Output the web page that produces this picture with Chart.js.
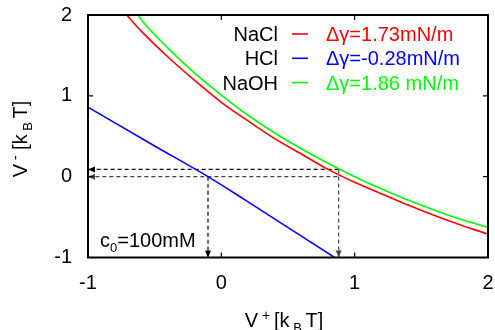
<!DOCTYPE html>
<html>
<head>
<meta charset="utf-8">
<script src="https://cdn.jsdelivr.net/npm/chart.js@4/dist/chart.umd.min.js"></script>
<style>
  html, body { margin:0; padding:0; background:#fff; }
  #wrap { width:495px; height:330px; position:relative; }
</style>
</head>
<body>
<div id="wrap"><canvas id="ch"></canvas></div>
<script>
/* ===== data ===== */
const FONT = '"Liberation Sans", Arial, Helvetica, sans-serif';

// NaCl (red)
const naclX = [-0.71, -0.6, -0.4, -0.2, 0, 0.2, 0.4, 0.6, 0.8, 1.0, 1.2, 1.4, 1.6, 1.8, 2.0];
const naclY = [2.00, 1.80, 1.48, 1.19, 0.92, 0.69, 0.47, 0.28, 0.09, -0.07, -0.21, -0.35, -0.48, -0.60, -0.71];
// HCl (blue)
const hclX = [-1, -0.5, -0.1, 0.18, 0.85];
const hclY = [0.86, 0.38, 0.0, -0.29, -1.0];
// NaOH (green)
const naohX = [-0.625, -0.6, -0.4, -0.2, 0, 0.2, 0.4, 0.6, 0.8, 1.0, 1.2, 1.4, 1.6, 1.8, 2.0];
const naohY = [2.00, 1.94, 1.59, 1.28, 1.01, 0.76, 0.54, 0.345, 0.165, 0.00, -0.15, -0.29, -0.415, -0.53, -0.625];

const names   = ['NaCl', 'HCl', 'NaOH'];
const dgLabel = ['\u0394\u03b3=1.73mN/m', '\u0394\u03b3=-0.28mN/m', '\u0394\u03b3=1.86 mN/m'];
const colors  = ['#ff0000', '#0000ff', '#00ff00'];

const xTicks = [-1, 0, 1, 2];
const yTicks = [-1, 0, 1, 2];

// dashed guides: [x0,y0] -> [x1,y1], arrow at the second end
const guideFrom = [[0.88, 0.09], [0.87, 0.0], [0.88, 0.09], [-0.1, 0.0]];
const guideTo   = [[-1, 0.09], [-1, 0.0], [0.88, -1], [-0.1, -1]];
const guideCol  = ['#000', '#444', '#444', '#000'];

const pts = (xs, ys) => xs.map((x, i) => ({x, y: ys[i]}));

const curve = (label, xs, ys, c) => ({
  label, data: pts(xs, ys), borderColor: c, backgroundColor: c,
  borderWidth: 1.6, pointRadius: 0, showLine: true,
  cubicInterpolationMode: 'monotone'
});

const guides = guideFrom.map((f, i) => ({
  label: 'g' + i,
  data: [{x: f[0], y: f[1]}, {x: guideTo[i][0], y: guideTo[i][1]}],
  borderColor: guideCol[i], borderWidth: 1.2, borderDash: [4, 3],
  pointRadius: 0, showLine: true
}));

/* ===== helpers ===== */
function richWidth(ctx, parts){
  let w = 0;
  parts.forEach(p => { ctx.font = p[1] + 'px ' + FONT; w += ctx.measureText(p[0]).width; });
  return w;
}
function drawRich(ctx, parts, x, y, align){
  let cx = x;
  if (align === 'center') cx = x - richWidth(ctx, parts) / 2;
  ctx.textAlign = 'left'; ctx.textBaseline = 'alphabetic';
  parts.forEach(p => {
    ctx.font = p[1] + 'px ' + FONT;
    ctx.fillText(p[0], cx, y + (p[2] || 0));
    cx += ctx.measureText(p[0]).width;
  });
}

/* ===== frame, ticks, arrows, labels ===== */
const decor = {
  id: 'decor',
  afterDatasetsDraw(chart){
    const {ctx, chartArea: a, scales: {x, y}} = chart;
    ctx.save();

    // arrow heads on guides
    guideTo.forEach((t, i) => {
      const px = x.getPixelForValue(t[0]), py = y.getPixelForValue(t[1]);
      const f = guideFrom[i];
      const ang = Math.atan2(py - y.getPixelForValue(f[1]), px - x.getPixelForValue(f[0]));
      ctx.fillStyle = guideCol[i];
      ctx.beginPath();
      ctx.moveTo(px, py);
      ctx.lineTo(px - 7 * Math.cos(ang) - 3 * Math.sin(ang), py - 7 * Math.sin(ang) + 3 * Math.cos(ang));
      ctx.lineTo(px - 7 * Math.cos(ang) + 3 * Math.sin(ang), py - 7 * Math.sin(ang) - 3 * Math.cos(ang));
      ctx.closePath(); ctx.fill();
    });

    // border
    ctx.strokeStyle = '#000'; ctx.lineWidth = 2;
    ctx.strokeRect(a.left, a.top, a.right - a.left, a.bottom - a.top);

    // inward ticks on all four sides
    ctx.lineWidth = 1.2;
    ctx.beginPath();
    xTicks.forEach(v => {
      const px = x.getPixelForValue(v);
      ctx.moveTo(px, a.bottom); ctx.lineTo(px, a.bottom - 5);
      ctx.moveTo(px, a.top); ctx.lineTo(px, a.top + 5);
    });
    yTicks.forEach(v => {
      const py = y.getPixelForValue(v);
      ctx.moveTo(a.left, py); ctx.lineTo(a.left + 5, py);
      ctx.moveTo(a.right, py); ctx.lineTo(a.right - 5, py);
    });
    ctx.stroke();

    // legend (top right, inside)
    names.forEach((n, i) => {
      const base = a.top + 26 + i * 24.3;
      ctx.fillStyle = '#000';
      ctx.font = '20px ' + FONT; ctx.textAlign = 'right'; ctx.textBaseline = 'alphabetic';
      ctx.fillText(n, 278, base);
      ctx.strokeStyle = colors[i]; ctx.lineWidth = 1.6;
      ctx.beginPath(); ctx.moveTo(292, base - 7); ctx.lineTo(308, base - 7); ctx.stroke();
      ctx.fillStyle = colors[i]; ctx.textAlign = 'left';
      ctx.fillText(dgLabel[i], 326, base);
    });

    // concentration note
    ctx.fillStyle = '#000';
    drawRich(ctx, [['c', 20], ['0', 13, 5], ['=100mM', 20]], a.left + 12, a.bottom - 11, 'left');

    // axis titles
    drawRich(ctx, [['V', 20], [' + ', 14, -7], ['[k', 20], [' B ', 13, 5], ['T]', 20]], 284, 327, 'center');
    ctx.translate(27, 139); ctx.rotate(-Math.PI / 2);
    drawRich(ctx, [['V', 20], [' -', 14, -7], [' [k', 20], [' B ', 13, 5], ['T]', 20]], 0, 0, 'center');

    ctx.restore();
  }
};

new Chart(document.getElementById('ch'), {
  type: 'scatter',
  data: {
    datasets: [
      curve(names[0], naclX, naclY, colors[0]),
      curve(names[1], hclX, hclY, colors[1]),
      curve(names[2], naohX, naohY, colors[2]),
      ...guides
    ]
  },
  options: {
    responsive: true, maintainAspectRatio: false, animation: false,
    layout: {autoPadding: false, padding: {top: 15, right: 7, left: 0, bottom: 0}},
    plugins: {legend: {display: false}, tooltip: {enabled: false}},
    scales: {
      x: {
        type: 'linear', min: -1, max: 2,
        afterBuildTicks: s => { s.ticks = xTicks.map(v => ({value: v})); },
        ticks: {font: {family: FONT, size: 20}, color: '#000', padding: 14, maxRotation: 0},
        grid: {display: false, drawTicks: false}, border: {display: false},
        afterFit: s => { s.height = 72.5; s.paddingLeft = 0; s.paddingRight = 0; }
      },
      y: {
        type: 'linear', min: -1, max: 2,
        afterBuildTicks: s => { s.ticks = yTicks.map(v => ({value: v})); },
        ticks: {font: {family: FONT, size: 20}, color: '#000', padding: 16},
        grid: {display: false, drawTicks: false}, border: {display: false},
        afterFit: s => { s.width = 88; s.paddingTop = 0; s.paddingBottom = 0; }
      }
    }
  },
  plugins: [decor]
});
</script>
</body>
</html>
